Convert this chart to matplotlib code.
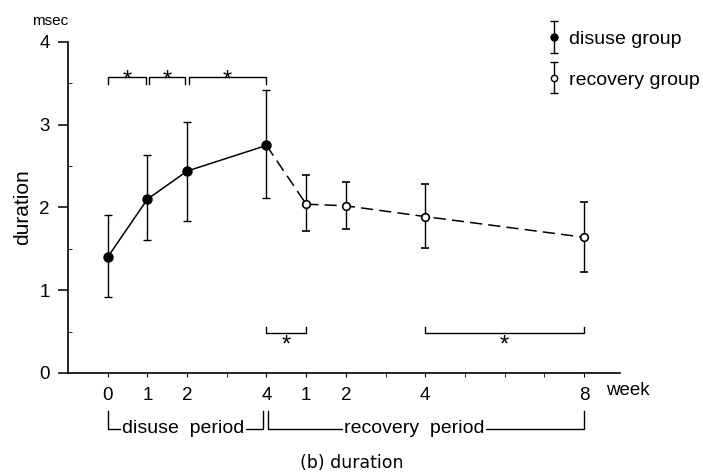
import matplotlib
matplotlib.use("Agg")
import matplotlib.pyplot as plt
import numpy as np
from matplotlib.container import ErrorbarContainer
from matplotlib.legend_handler import HandlerErrorbar

plt.rcParams['font.family'] = ['Liberation Sans', 'DejaVu Sans']

# disuse group (weeks of disuse)
disuse_weeks = [0, 1, 2, 4]
disuse_mean = [1.40, 2.10, 2.44, 2.75]
disuse_lo = [0.92, 1.61, 1.84, 2.11]
disuse_hi = [1.91, 2.63, 3.03, 3.42]

# recovery group (weeks after the 4-week disuse period)
recovery_weeks = [1, 2, 4, 8]
recovery_mean = [2.04, 2.02, 1.89, 1.64]
recovery_lo = [1.72, 1.74, 1.51, 1.22]
recovery_hi = [2.39, 2.31, 2.28, 2.07]

# significance brackets (positions on the time axis)
upper_pairs = [(0, 1), (1, 2), (2, 4)]
lower_pairs = [(4, 5), (8, 12)]

disuse_end = 4
disuse_x = list(disuse_weeks)
recovery_x = [disuse_end + w for w in recovery_weeks]
tick_x = disuse_x + recovery_x
tick_labels = [str(w) for w in disuse_weeks + recovery_weeks]

fig = plt.figure(figsize=(7.03, 4.76), dpi=100)
ax = fig.add_axes([0.0967, 0.2164, 0.785, 0.6954])

lw = 1.1
# lines
ax.plot(disuse_x, disuse_mean, color='black', lw=lw, zorder=2)
ax.plot([disuse_x[-1], recovery_x[0]], [disuse_mean[-1], recovery_mean[0]],
        color='black', lw=lw, dashes=[8, 4], zorder=2)
ax.plot(recovery_x, recovery_mean, color='black', lw=lw, dashes=[8, 4], zorder=2)

# error bars + markers
d_err = [[m - l for m, l in zip(disuse_mean, disuse_lo)],
         [h - m for m, h in zip(disuse_mean, disuse_hi)]]
r_err = [[m - l for m, l in zip(recovery_mean, recovery_lo)],
         [h - m for m, h in zip(recovery_mean, recovery_hi)]]
ax.errorbar(disuse_x, disuse_mean, yerr=d_err, fmt='o', color='black',
            ms=6.5, elinewidth=1.0, capsize=3, capthick=1.0, zorder=3)
ax.errorbar(recovery_x, recovery_mean, yerr=r_err, fmt='o', color='black',
            mfc='white', mec='black', mew=1.2, ms=5.5,
            elinewidth=1.0, capsize=3, capthick=1.0, zorder=3)

# legend proxies
h1 = ax.errorbar([np.nan], [np.nan], yerr=[1], fmt='o', color='black', ms=5,
                 elinewidth=1.0, capsize=3, capthick=1.0, label='disuse group')
h2 = ax.errorbar([np.nan], [np.nan], yerr=[1], fmt='o', color='black', mfc='white',
                 mew=1.0, ms=4.5, elinewidth=1.0, capsize=3, capthick=1.0,
                 label='recovery group')
leg = fig.legend(handles=[h1, h2], loc='upper left', bbox_to_anchor=(0.764, 0.957),
                 frameon=False, fontsize=14, handlelength=0.7, handletextpad=0.45,
                 labelspacing=1.2, borderpad=0,
                 handler_map={ErrorbarContainer: HandlerErrorbar(yerr_size=0.8)})

# significance brackets above
gap = 0.04
starts = [p[0] for p in upper_pairs]
ends = [p[1] for p in upper_pairs]
for a, b in upper_pairs:
    a0 = a + gap if a in ends else a
    b0 = b - gap if b in starts else b
    ax.plot([a0, a0, b0, b0], [3.49, 3.58, 3.58, 3.49], color='black', lw=1.0)
    ax.text((a0 + b0) / 2, 3.53, '*', ha='center', va='center', fontsize=17)

for a, b in lower_pairs:
    ax.plot([a, a, b, b], [0.55, 0.48, 0.48, 0.55], color='black', lw=1.0)
    ax.text((a + b) / 2, 0.33, '*', ha='center', va='center', fontsize=17)

# axes styling
ax.set_xlim(-1.0, 12.9)
ax.set_ylim(0, 4)
ax.spines['top'].set_visible(False)
ax.spines['right'].set_visible(False)
ax.spines['left'].set_linewidth(1.2)
ax.spines['bottom'].set_linewidth(1.2)
ax.set_xticks(tick_x)
ax.set_xticklabels(tick_labels, fontsize=13.5)
ax.set_xticks(range(0, 13), minor=True)
ax.tick_params(axis='x', which='both', direction='out', length=3, pad=7)
ax.set_yticks([0, 1, 2, 3, 4])
ax.set_yticklabels(['0', '1', '2', '3', '4'], fontsize=13.5)
ax.set_yticks([0.5, 1.5, 2.5, 3.5], minor=True)
ax.tick_params(axis='y', which='major', direction='out', length=7, width=1.1, pad=6)
ax.tick_params(axis='y', which='minor', direction='in', length=3)

ax.text(12.55, -0.054, 'week', transform=ax.get_xaxis_transform(), fontsize=13.5,
        ha='left', va='center')
ax.set_ylabel('duration', fontsize=15, labelpad=5)
fig.text(0.045, 0.955, 'msec', fontsize=11, ha='left', va='center')

# period brackets below axis
xt = ax.get_xaxis_transform()
y_top, y_bot = -0.115, -0.169
ax.plot([0, 0, 3.9, 3.9], [y_top, y_bot, y_bot, y_top], color='black', lw=1.0,
        transform=xt, clip_on=False)
ax.plot([4.05, 4.05, 12, 12], [y_top, y_bot, y_bot, y_top], color='black', lw=1.0,
        transform=xt, clip_on=False)
bb = dict(facecolor='white', edgecolor='none', pad=1.0)
ax.text(1.9, y_bot, 'disuse  period', transform=xt, fontsize=14, ha='center',
        va='center', bbox=bb)
ax.text(7.73, y_bot, 'recovery  period', transform=xt, fontsize=14, ha='center',
        va='center', bbox=bb)

fig.text(0.5, 0.027, '(b) duration', fontsize=12.5, ha='center', va='center',
         family='DejaVu Sans')

fig.savefig('out.png', dpi=100)
